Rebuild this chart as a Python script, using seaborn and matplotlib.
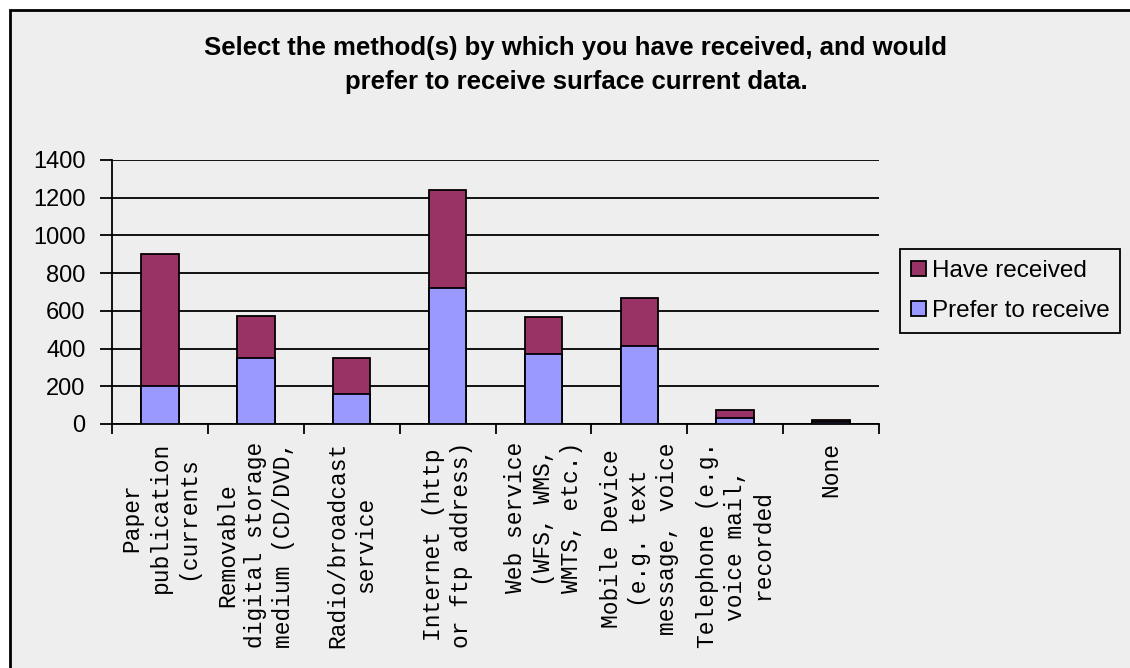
import matplotlib
matplotlib.use("Agg")
import matplotlib.pyplot as plt
from matplotlib.patches import Rectangle, Patch
from matplotlib.ticker import FixedLocator
import seaborn as sns
import pandas as pd

# Delivery methods (labels as they appear under the axis)
categories = [
    "Paper\npublication\n(currents",
    "Removable\ndigital storage\nmedium (CD/DVD,",
    "Radio/broadcast\nservice",
    "Internet (http\nor ftp address)",
    "Web service\n(WFS, WMS,\nWMTS, etc.)",
    "Mobile Device\n(e.g. text\nmessage, voice",
    "Telephone (e.g.\nvoice mail,\nrecorded",
    "None",
]
prefer_to_receive = [200, 350, 160, 720, 370, 415, 33, 8]
have_received = [700, 225, 190, 520, 195, 255, 43, 12]
y_ticks = [0, 200, 400, 600, 800, 1000, 1200, 1400]

series_names = ["Have received", "Prefer to receive"]
series_colors = ["#993366", "#9999FF"]

df = pd.DataFrame({
    "method": categories,
    "prefer": prefer_to_receive,
    "received": have_received,
})
df["total"] = df["prefer"] + df["received"]

sns.set_style("white")
plt.rcParams["font.family"] = ["Liberation Sans", "DejaVu Sans"]
plt.rcParams["text.color"] = "black"
plt.rcParams["xtick.color"] = "black"
plt.rcParams["ytick.color"] = "black"

W, H = 1130, 668
fig = plt.figure(figsize=(W / 100, H / 100), dpi=100, facecolor="white")

# Chart-area frame, kept behind everything else
frame = Rectangle((10 / W, -0.05), 1.2, 1 - 10 / H + 0.05,
                  transform=fig.transFigure, facecolor="#EEEEEE",
                  edgecolor="black", linewidth=2, zorder=-10)
fig.patches.append(frame)

ax = fig.add_axes([112 / W, 1 - 424 / H, (879 - 112) / W, 264 / H])
ax.set_zorder(1)
ax.patch.set_alpha(0)

bar_w = 0.39
# stacked: full height in the upper colour, lower segment drawn on top
sns.barplot(data=df, x="method", y="total", color=series_colors[0],
            width=bar_w, edgecolor="black", linewidth=1.3, saturation=1,
            ax=ax, zorder=3)
sns.barplot(data=df, x="method", y="prefer", color=series_colors[1],
            width=bar_w, edgecolor="black", linewidth=1.3, saturation=1,
            ax=ax, zorder=4)

ax.set_xlim(-0.5, len(categories) - 0.5)
ax.set_ylim(0, 1400)
ax.set_yticks(y_ticks)
ax.set_yticklabels([str(v) for v in y_ticks], fontsize=17)
ax.yaxis.grid(True, color="black", linewidth=1.3, zorder=1)
ax.set_axisbelow(True)
ax.set_xlabel("")
ax.set_ylabel("")

for s in ["top", "right"]:
    ax.spines[s].set_visible(False)
for s in ["left", "bottom"]:
    ax.spines[s].set_color("black")
    ax.spines[s].set_linewidth(1.3)

ax.tick_params(axis="y", direction="out", length=9, width=1.3, color="black",
               left=True, pad=10)
ax.set_xticks(range(len(categories)))
ax.set_xticklabels(categories, rotation=90, fontsize=16.5,
                   family=["Liberation Mono", "DejaVu Sans Mono"],
                   ha="center", va="top", multialignment="center",
                   linespacing=1.28)
ax.tick_params(axis="x", which="major", length=0, pad=13)
ax.xaxis.set_minor_locator(FixedLocator([i - 0.5 for i in range(len(categories) + 1)]))
ax.tick_params(axis="x", which="minor", direction="out", length=7, width=1.3,
               color="black", bottom=True)

fig.text(576 / W, 1 - 36 / H,
         "Select the method(s) by which you have received, and would\n"
         "prefer to receive surface current data.",
         ha="center", va="top", fontsize=18.5, fontweight="bold",
         linespacing=1.55, color="black")

handles = [Patch(facecolor=c, edgecolor="black", linewidth=1.3) for c in series_colors]
leg = fig.legend(handles, series_names, loc="upper left",
                 bbox_to_anchor=(900 / W, 1 - 249 / H), fontsize=17.5,
                 frameon=True, fancybox=False, edgecolor="black",
                 facecolor="#EEEEEE", framealpha=1, handlelength=0.6,
                 handleheight=0.6, handletextpad=0.25, borderpad=0.45,
                 labelspacing=0.75, borderaxespad=0)
leg.get_frame().set_linewidth(1.3)

fig.savefig("out.png", dpi=100, facecolor="white")
